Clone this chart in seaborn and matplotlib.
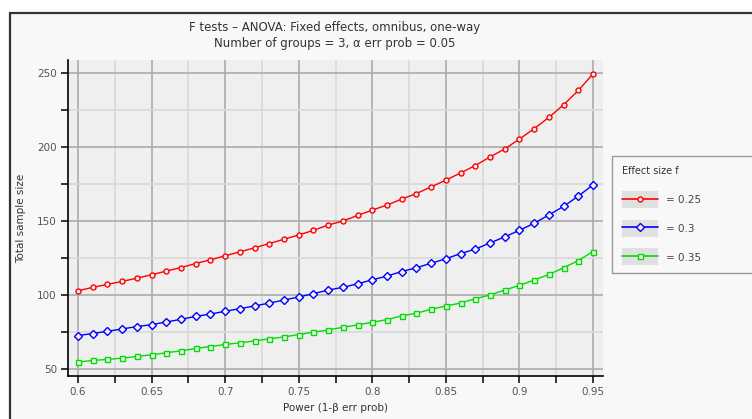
import numpy as np
import pandas as pd
import matplotlib
matplotlib.use('Agg')
import matplotlib.pyplot as plt
import seaborn as sns
from matplotlib.patches import Rectangle
from matplotlib.lines import Line2D
from matplotlib.legend_handler import HandlerLine2D
from matplotlib.ticker import MultipleLocator

power = [0.60, 0.61, 0.62, 0.63, 0.64, 0.65, 0.66, 0.67, 0.68, 0.69,
         0.70, 0.71, 0.72, 0.73, 0.74, 0.75, 0.76, 0.77, 0.78, 0.79,
         0.80, 0.81, 0.82, 0.83, 0.84, 0.85, 0.86, 0.87, 0.88, 0.89,
         0.90, 0.91, 0.92, 0.93, 0.94, 0.95]
n_f025 = [102.9, 105.2, 107.2, 109.2, 111.4, 113.7, 116.2, 118.6, 121.3, 123.8,
          126.5, 129.2, 131.9, 134.8, 137.7, 140.6, 143.7, 147.3, 150.0, 153.8,
          157.4, 160.8, 164.8, 168.6, 173.1, 177.6, 182.5, 187.5, 193.3, 198.7,
          205.4, 212.4, 220.0, 228.5, 238.2, 249.4]
n_f030 = [72.6, 74.0, 75.5, 77.1, 78.7, 80.0, 81.8, 83.6, 85.6, 87.2,
          89.0, 90.8, 92.6, 94.6, 96.6, 98.7, 100.9, 103.4, 105.2, 107.6,
          110.3, 112.8, 115.9, 118.4, 121.5, 124.5, 128.0, 131.0, 135.2, 139.3,
          143.7, 148.5, 154.1, 159.9, 166.8, 174.5]
n_f035 = [54.7, 55.8, 56.5, 57.4, 58.5, 59.6, 61.0, 62.3, 63.9, 65.2,
          66.6, 67.7, 69.0, 70.4, 71.7, 73.3, 74.9, 76.4, 78.2, 79.8,
          81.6, 83.4, 85.9, 87.7, 90.4, 92.6, 94.6, 97.5, 100.0, 103.4,
          106.5, 110.1, 113.9, 118.4, 123.3, 129.4]
effect_labels = ['= 0.25', '= 0.3', '= 0.35']
colors = ['#ff0000', '#0000ff', '#00dd00']
markers = ['o', 'D', 's']

df = pd.concat([
    pd.DataFrame({'power': power, 'n': n, 'f': lab})
    for n, lab in zip([n_f025, n_f030, n_f035], effect_labels)
])

sns.set_style('white')
plt.rcParams['font.family'] = ['DejaVu Sans']
text_col = '#333333'

fig = plt.figure(figsize=(7.52, 4.19), dpi=100, facecolor='white')
# outer G*Power frame
fig.add_artist(Rectangle((10 / 752, -0.01), 1.0, 1 - 13 / 419 + 0.01,
                         transform=fig.transFigure, facecolor='#f8f8f8',
                         edgecolor='#333333', linewidth=1.6, zorder=-1))

ax = fig.add_axes([68 / 752, 1 - 376 / 419, 535 / 752, 316 / 419])
ax.set_facecolor('#efefef')

sns.lineplot(data=df, x='power', y='n', hue='f', style='f',
             palette=colors, markers=markers, dashes=False,
             linewidth=1.0, markersize=3.6, legend=False, ax=ax)
for line, c in zip(ax.lines, colors):
    line.set_markerfacecolor('#f4f4f4')
    line.set_markeredgecolor(c)
    line.set_markeredgewidth(1.0)

ax.set_xlim(0.5932, 0.9568)
ax.set_ylim(45.3, 258.8)
ax.xaxis.set_major_locator(MultipleLocator(0.05))
ax.xaxis.set_minor_locator(MultipleLocator(0.025))
ax.yaxis.set_major_locator(MultipleLocator(50))
ax.yaxis.set_minor_locator(MultipleLocator(25))
ax.set_xticks([0.6, 0.65, 0.7, 0.75, 0.8, 0.85, 0.9, 0.95])
ax.set_xticklabels(['0.6', '0.65', '0.7', '0.75', '0.8', '0.85', '0.9', '0.95'])
ax.grid(True, which='major', color='#ababab', linewidth=1.2)
ax.grid(True, which='minor', color='#d9d9d9', linewidth=1.2)
ax.set_axisbelow(True)

for side in ['top', 'right']:
    ax.spines[side].set_visible(False)
for side in ['left', 'bottom']:
    ax.spines[side].set_color('black')
    ax.spines[side].set_linewidth(1.2)
ax.tick_params(which='both', direction='out', length=5, width=1.1,
               color='black', labelsize=7.5, labelcolor='#555555', pad=3,
               left=True, bottom=True)

ax.set_xlabel('Power (1-β err prob)', fontsize=7.5, color=text_col, labelpad=4)
ax.set_ylabel('Total sample size', fontsize=7.5, color=text_col, labelpad=8)

fig.text(335 / 752, 1 - 27 / 419, 'F tests – ANOVA: Fixed effects, omnibus, one-way',
         ha='center', va='center', fontsize=8.5, color=text_col)
fig.text(335 / 752, 1 - 44 / 419, 'Number of groups = 3, α err prob = 0.05',
         ha='center', va='center', fontsize=8.5, color=text_col)


class SwatchHandler(HandlerLine2D):
    def create_artists(self, legend, orig_handle, xdescent, ydescent,
                       width, height, fontsize, trans):
        rect = Rectangle((-xdescent, -ydescent - height * 0.35), width, height * 1.7,
                         facecolor='#e0e0e0', edgecolor='none', transform=trans)
        arts = super().create_artists(legend, orig_handle, xdescent, ydescent,
                                      width, height, fontsize, trans)
        return [rect] + list(arts)


handles = [Line2D([0], [0], color=c, marker=m, markersize=3.6, markerfacecolor='#f4f4f4',
                  markeredgecolor=c, linewidth=1.2)
           for c, m in zip(colors, markers)]
leg = fig.legend(handles, effect_labels, title='Effect size f',
                 loc='upper left', bbox_to_anchor=(612 / 752, 1 - 160 / 419, 150 / 752, 0.01),
                 mode='expand', borderaxespad=0, fontsize=7.5, title_fontsize=7,
                 frameon=True, fancybox=False, edgecolor='#9a9a9a', facecolor='#f8f8f8',
                 framealpha=1, handlelength=3.4, handleheight=1.1, labelspacing=1.75,
                 handletextpad=0.8, borderpad=1.0, alignment='left',
                 handler_map={Line2D: SwatchHandler()})
leg.get_frame().set_linewidth(1.0)
for t in leg.get_texts():
    t.set_color('#444444')
leg.get_title().set_color(text_col)

fig.savefig('out.png', dpi=100, facecolor='white')
